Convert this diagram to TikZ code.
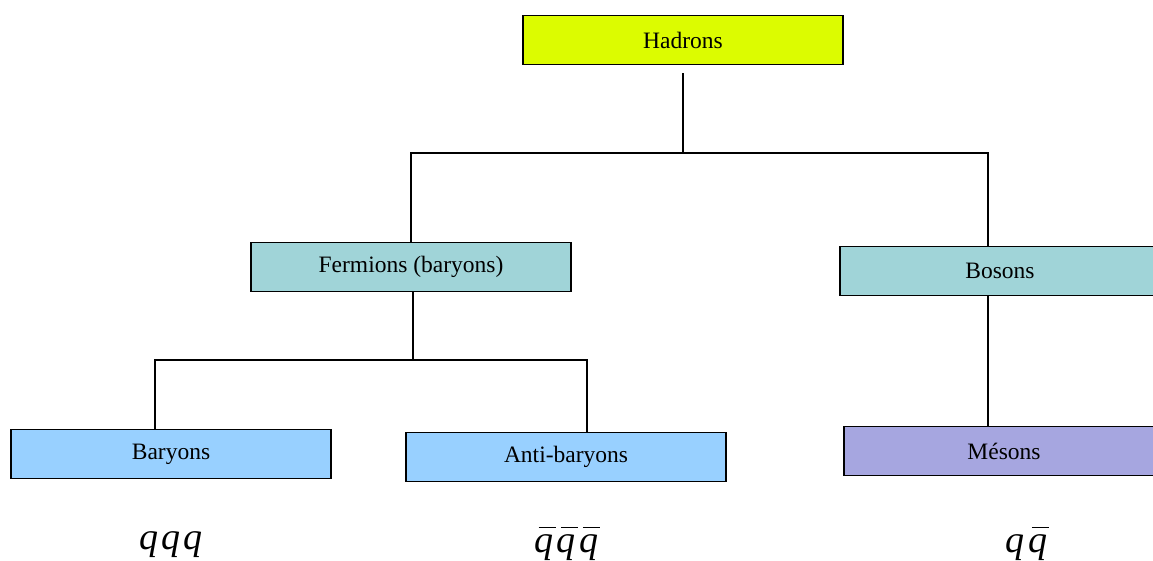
\documentclass[tikz,border=0pt]{standalone}
\usepackage{fontspec}
\setmainfont{Liberation Serif}
\definecolor{hadc}{HTML}{DCFC00}
\definecolor{fermc}{HTML}{A0D4D8}
\definecolor{baryc}{HTML}{98D0FF}
\definecolor{mesc}{HTML}{A6A6E0}
\newcommand{\ovq}{\hbox{\setbox0=\hbox{q}\rlap{\hspace{0.2\wd0}\rule[0.62em]{0.92\wd0}{1.3pt}}\box0\hspace{0.08em}}}
\begin{document}
\begin{tikzpicture}[x=1pt,y=-1pt,
  box/.style={draw=black,line width=1.8pt,minimum width=320pt,minimum height=49pt,inner sep=0pt,font=\fontsize{23.5}{27}\selectfont},
  conn/.style={draw=black,line width=1.4pt},
  formula/.style={font=\fontsize{38}{42}\selectfont\itshape,inner sep=0pt,anchor=base}]
\useasboundingbox (0,0) rectangle (1153,560);
\node[box,fill=hadc] (had) at (683,40) {Hadrons};
\node[box,fill=fermc] (ferm) at (411,267) {Fermions (baryons)};
\node[box,fill=fermc] (bos) at (1000,271) {Bosons};
\node[box,fill=baryc] (bar) at (171,454) {Baryons};
\node[box,fill=baryc] (abar) at (566,457) {Anti-baryons};
\node[box,fill=mesc] (mes) at (1004,451) {Mésons};
\coordinate (hs) at (683,73);
\coordinate (hj) at (683,153);
\coordinate (fj) at (413,360);
\draw[conn] (hs) -- (hj);
\draw[conn] (ferm.north) |- (hj) -| (bos.north -| 988,0);
\draw[conn] (ferm.south -| fj) -- (fj);
\draw[conn] (bar.north -| 155,0) |- (fj) -| (abar.north -| 587,0);
\draw[conn] (bos.south -| 988,0) -- (mes.north -| 988,0);
\node[formula] (f1) at (171,549) {q\hspace{0.08em}q\hspace{0.08em}q};
\node[formula] (f2) at (568,552) {\ovq\ovq\ovq};
\node[formula] (f3) at (1028,552) {q\hspace{0.08em}\ovq};
\end{tikzpicture}
\end{document}
